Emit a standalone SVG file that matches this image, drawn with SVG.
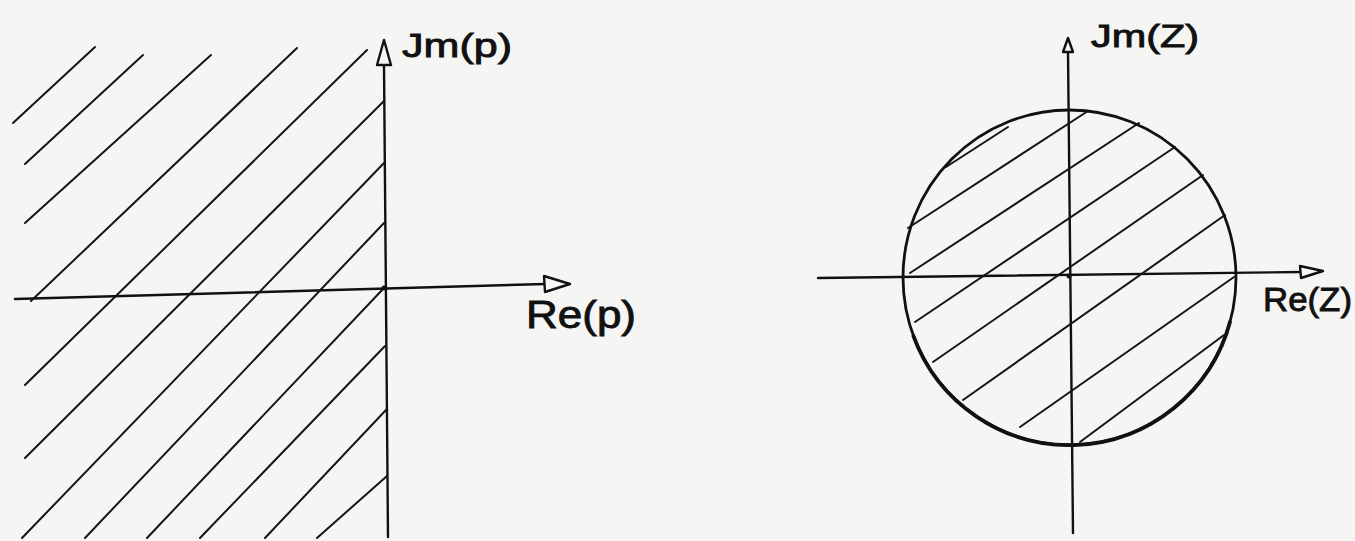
<svg xmlns="http://www.w3.org/2000/svg" width="1355" height="541" viewBox="0 0 1355 541">
  <style>
    .ln { stroke: #151515; stroke-width: 2; stroke-linecap: round; fill: none; }
    .ax { stroke: #111; stroke-width: 2.4; stroke-linecap: round; fill: none; }
    .ah { stroke: #111; stroke-width: 2.4; stroke-linejoin: round; fill: #f5f5f3; }
    .lbl { font-family: "Liberation Sans", Arial, sans-serif; fill: #111; stroke: #111; stroke-width: 0.9; }
  </style>
  <rect x="0" y="0" width="1355" height="541" fill="#f5f5f3"/>

  <g id="left-plane">
    <g id="left-hatch">
      <line class="ln" x1="13" y1="123" x2="95" y2="47"/>
      <line class="ln" x1="25" y1="164" x2="143" y2="55"/>
      <line class="ln" x1="25" y1="223" x2="211" y2="55"/>
      <line class="ln" x1="31" y1="301" x2="297" y2="48"/>
      <line class="ln" x1="25" y1="385" x2="367" y2="50"/>
      <line class="ln" x1="25" y1="458" x2="384" y2="101"/>
      <line class="ln" x1="22" y1="538" x2="384" y2="163"/>
      <line class="ln" x1="85" y1="538" x2="384" y2="223"/>
      <line class="ln" x1="147" y1="538" x2="384" y2="288"/>
      <line class="ln" x1="200" y1="538" x2="385" y2="346"/>
      <line class="ln" x1="265" y1="538" x2="386" y2="410"/>
      <line class="ln" x1="317" y1="538" x2="387" y2="476"/>
    </g>
    <g id="left-axes">
      <line class="ax" x1="384" y1="65" x2="388" y2="537"/>
      <polygon class="ah" points="384,40 391,65 377,65"/>
      <line class="ax" x1="15" y1="299" x2="545" y2="284"/>
      <polygon class="ah" points="570,284 544,276 545,292"/>
      <circle cx="384" cy="288" r="2.5" fill="#111"/>
    </g>
    <text class="lbl" x="402" y="57" font-size="34" textLength="110" lengthAdjust="spacingAndGlyphs">Jm(p)</text>
    <text class="lbl" x="526" y="328" font-size="38" textLength="110" lengthAdjust="spacingAndGlyphs">Re(p)</text>
  </g>

  <g id="right-plane">
    <g id="right-hatch">
      <line class="ln" x1="946" y1="167" x2="1008" y2="127"/>
      <line class="ln" x1="908" y1="228" x2="1088" y2="111"/>
      <line class="ln" x1="910" y1="273" x2="1139" y2="123"/>
      <line class="ln" x1="915" y1="322" x2="1175" y2="147"/>
      <line class="ln" x1="933" y1="362" x2="1203" y2="175"/>
      <line class="ln" x1="963" y1="400" x2="1225" y2="215"/>
      <line class="ln" x1="1020" y1="427" x2="1234" y2="277"/>
      <line class="ln" x1="1080" y1="442" x2="1224" y2="335"/>
    </g>
    <ellipse cx="1069.5" cy="277.5" rx="166.5" ry="167.5" fill="none" stroke="#111" stroke-width="2.8"/>
    <path d="M 913 334.8 A 166.5 167.5 0 0 0 1230.3 320.9" fill="none" stroke="#111" stroke-width="3.8"/>
    <g id="right-axes">
      <line class="ax" x1="1068" y1="52" x2="1073" y2="533"/>
      <polygon class="ah" points="1068,38 1073,52 1063,52"/>
      <line class="ax" x1="818" y1="278" x2="1301" y2="272"/>
      <polygon class="ah" points="1323,271 1300,266 1301,278"/>
      <circle cx="1069" cy="276" r="2.5" fill="#111"/>
    </g>
    <text class="lbl" x="1091" y="47" font-size="32" textLength="108" lengthAdjust="spacingAndGlyphs" stroke-width="1.3">Jm(Z)</text>
    <text class="lbl" x="1263" y="311" font-size="34" textLength="89" lengthAdjust="spacingAndGlyphs" stroke-width="1.5">Re(Z)</text>
  </g>
</svg>
